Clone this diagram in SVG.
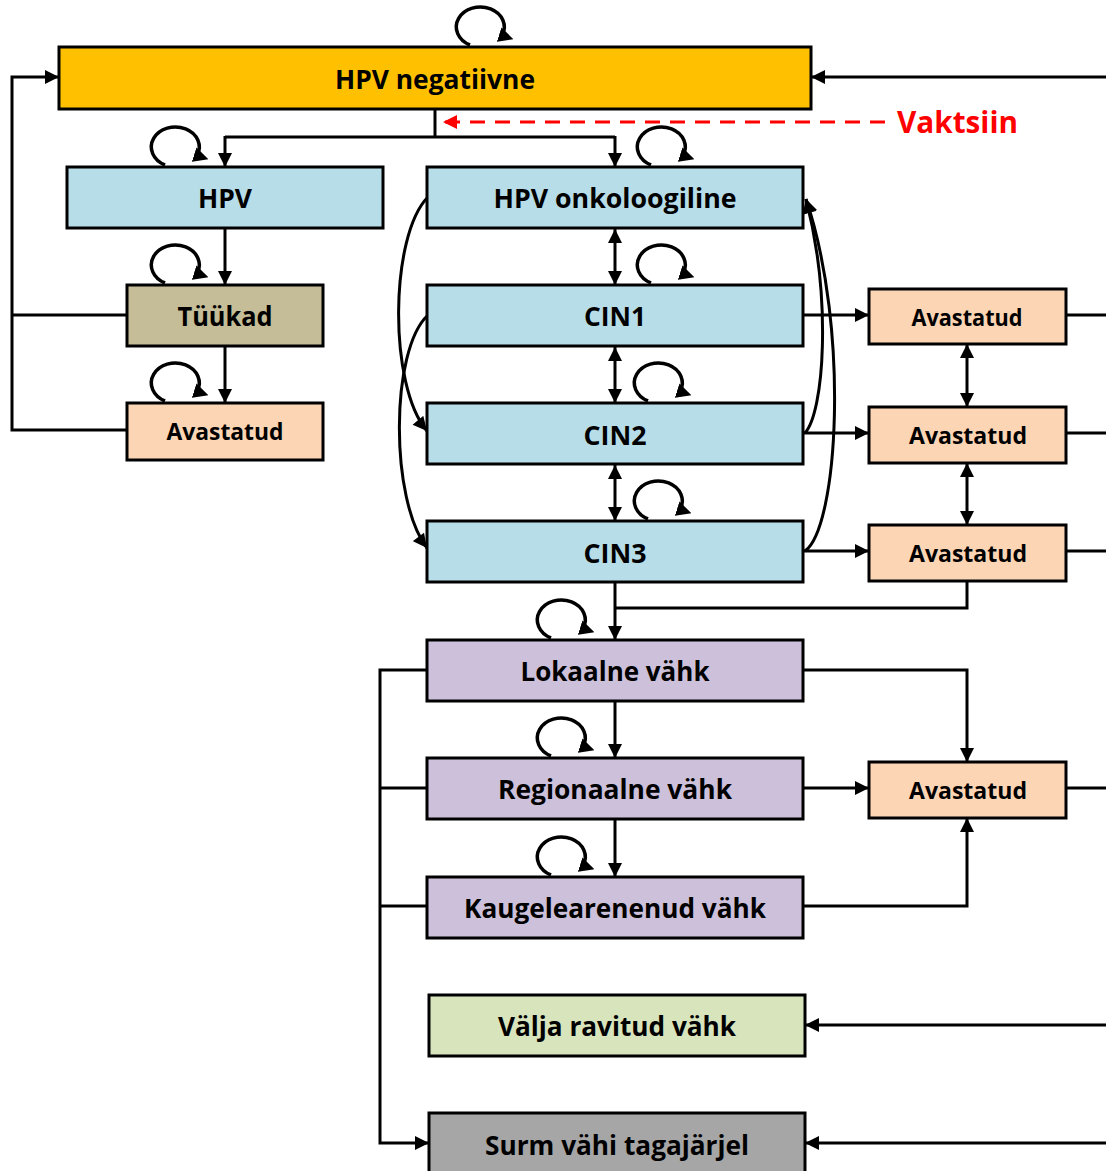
<svg xmlns="http://www.w3.org/2000/svg" xmlns:xlink="http://www.w3.org/1999/xlink" width="1106" height="1171" viewBox="0 0 1106 1171">
  <style>
    .box { stroke: #000; stroke-width: 3; }
    .neg { fill: #FFC000; }
    .hpv { fill: #B7DDE8; }
    .wart { fill: #C4BD97; }
    .det { fill: #FCD5B4; }
    .ca { fill: #CCC0DA; }
    .cured { fill: #D8E4BC; }
    .dead { fill: #A6A6A6; }
    .lbl { font-family: "Open Sans", "Liberation Sans", sans-serif; font-weight: bold; font-size: 26px; fill: #000; text-anchor: middle; }
    .sm { font-size: 23px; }
    .conn { fill: none; stroke: #000; stroke-width: 3; }
    .self { fill: none; stroke: #000; stroke-width: 3.5; }
    .vac { fill: none; stroke: #FF0000; stroke-width: 3; stroke-dasharray: 15 10; }
    .vlbl { font-family: "Open Sans", "Liberation Sans", sans-serif; font-weight: bold; font-size: 30px; fill: #FF0000; }
  </style>
  <defs>
    <marker id="arr" viewBox="0 0 10 10" refX="10" refY="5" markerWidth="15" markerHeight="14" markerUnits="userSpaceOnUse" orient="auto-start-reverse">
      <path d="M0,0 L10,5 L0,10 z" fill="#000"/>
    </marker>
    <marker id="arrS" viewBox="0 0 10 10" refX="2" refY="5" markerWidth="15" markerHeight="16" markerUnits="userSpaceOnUse" orient="18">
      <path d="M0,0 L10,5 L0,10 z" fill="#000"/>
    </marker>
    <marker id="arrR" viewBox="0 0 10 10" refX="10" refY="5" markerWidth="15" markerHeight="14" markerUnits="userSpaceOnUse" orient="auto">
      <path d="M0,0 L10,5 L0,10 z" fill="#FF0000"/>
    </marker>
    <!-- self-transition loop, drawn around its own centre -->
    <path id="loop" class="self" d="M -10 18 A 24 20 0 1 1 22 8.5" marker-end="url(#arrS)"/>
  </defs>

  <!-- connectors -->
  <g id="connectors">
    <!-- return paths into HPV negatiivne -->
    <path class="conn" d="M 1106 77 L 811 77" marker-end="url(#arr)"/>
    <path class="conn" d="M 127 315 L 12 315 M 127 430 L 12 430 M 12 431.5 L 12 77 L 59 77" marker-end="url(#arr)"/>
    <!-- infection split -->
    <path class="conn" d="M 435 109 L 435 137"/>
    <path class="conn" d="M 225 137 L 615 137"/>
    <path class="conn" d="M 225 136 L 225 167" marker-end="url(#arr)"/>
    <path class="conn" d="M 615 136 L 615 167" marker-end="url(#arr)"/>
    <!-- vaccination -->
    <path class="vac" d="M 885 122 L 443 122" marker-end="url(#arrR)"/>
    <!-- warts branch -->
    <path class="conn" d="M 225 228 L 225 285" marker-end="url(#arr)"/>
    <path class="conn" d="M 225 346 L 225 403" marker-end="url(#arr)"/>
    <!-- CIN ladder -->
    <path class="conn" d="M 615 229 L 615 285" marker-start="url(#arr)" marker-end="url(#arr)"/>
    <path class="conn" d="M 615 347 L 615 403" marker-start="url(#arr)" marker-end="url(#arr)"/>
    <path class="conn" d="M 615 465 L 615 521" marker-start="url(#arr)" marker-end="url(#arr)"/>
    <!-- skip-level progressions -->
    <path class="conn" d="M 428 197 C 390 235, 388 385, 427 431" marker-end="url(#arr)"/>
    <path class="conn" d="M 428 315 C 390 350, 390 500, 427 548" marker-end="url(#arr)"/>
    <!-- regressions to HPV onkoloogiline -->
    <path class="conn" d="M 805 433 C 824 412, 832 300, 806 199" marker-end="url(#arr)"/>
    <path class="conn" d="M 805 551 C 838 528, 850 330, 806 199" marker-end="url(#arr)"/>
    <!-- detection of CIN -->
    <path class="conn" d="M 803 315 L 869 315" marker-end="url(#arr)"/>
    <path class="conn" d="M 803 433 L 869 433" marker-end="url(#arr)"/>
    <path class="conn" d="M 803 551 L 869 551" marker-end="url(#arr)"/>
    <path class="conn" d="M 967 344 L 967 407" marker-start="url(#arr)" marker-end="url(#arr)"/>
    <path class="conn" d="M 967 463 L 967 525" marker-start="url(#arr)" marker-end="url(#arr)"/>
    <path class="conn" d="M 1066 315 L 1106 315 M 1066 433 L 1106 433 M 1066 551 L 1106 551"/>
    <!-- towards cancer -->
    <path class="conn" d="M 967 581 L 967 608 L 614 608"/>
    <path class="conn" d="M 615 582 L 615 640" marker-end="url(#arr)"/>
    <path class="conn" d="M 615 701 L 615 758" marker-end="url(#arr)"/>
    <path class="conn" d="M 615 819 L 615 877" marker-end="url(#arr)"/>
    <!-- cancer detection -->
    <path class="conn" d="M 803 670 L 967 670 L 967 762" marker-end="url(#arr)"/>
    <path class="conn" d="M 803 788 L 869 788" marker-end="url(#arr)"/>
    <path class="conn" d="M 803 906 L 967 906 L 967 818" marker-end="url(#arr)"/>
    <path class="conn" d="M 1066 788 L 1106 788"/>
    <!-- cancer death -->
    <path class="conn" d="M 427 670 L 380 670 L 380 1143 L 429 1143" marker-end="url(#arr)"/>
    <path class="conn" d="M 427 788 L 380 788 M 427 906 L 380 906"/>
    <!-- cured / death after detection -->
    <path class="conn" d="M 1106 1025 L 805 1025" marker-end="url(#arr)"/>
    <path class="conn" d="M 1106 1143 L 805 1143" marker-end="url(#arr)"/>
    <!-- stay-in-state loops -->
    <use xlink:href="#loop" transform="translate(480,27)"/>
    <use xlink:href="#loop" transform="translate(175,147)"/>
    <use xlink:href="#loop" transform="translate(661,147)"/>
    <use xlink:href="#loop" transform="translate(175,265)"/>
    <use xlink:href="#loop" transform="translate(175,383)"/>
    <use xlink:href="#loop" transform="translate(661,265)"/>
    <use xlink:href="#loop" transform="translate(658,383)"/>
    <use xlink:href="#loop" transform="translate(658,501)"/>
    <use xlink:href="#loop" transform="translate(561,620)"/>
    <use xlink:href="#loop" transform="translate(561,738)"/>
    <use xlink:href="#loop" transform="translate(561,857)"/>
  </g>

  <text class="vlbl" x="897" y="133" textLength="121" lengthAdjust="spacingAndGlyphs">Vaktsiin</text>

  <g id="hpv-negatiivne">
    <rect class="box neg" x="59" y="47" width="752" height="62"/>
    <text class="lbl" x="435" y="89" textLength="200" lengthAdjust="spacingAndGlyphs">HPV negatiivne</text>
  </g>
  <g id="hpv">
    <rect class="box hpv" x="67" y="167" width="316" height="61"/>
    <text class="lbl" x="225" y="208" textLength="54" lengthAdjust="spacingAndGlyphs">HPV</text>
  </g>
  <g id="hpv-onkoloogiline">
    <rect class="box hpv" x="427" y="167" width="376" height="61"/>
    <text class="lbl" x="615" y="208" textLength="243" lengthAdjust="spacingAndGlyphs">HPV onkoloogiline</text>
  </g>
  <g id="tuukad">
    <rect class="box wart" x="127" y="285" width="196" height="61"/>
    <text class="lbl" x="225" y="326" textLength="95" lengthAdjust="spacingAndGlyphs">Tüükad</text>
  </g>
  <g id="tuukad-avastatud">
    <rect class="box det" x="127" y="403" width="196" height="57"/>
    <text class="lbl sm" x="225" y="440" textLength="117" lengthAdjust="spacingAndGlyphs">Avastatud</text>
  </g>
  <g id="cin1">
    <rect class="box hpv" x="427" y="285" width="376" height="61"/>
    <text class="lbl" x="615" y="326" textLength="62" lengthAdjust="spacingAndGlyphs">CIN1</text>
  </g>
  <g id="cin2">
    <rect class="box hpv" x="427" y="403" width="376" height="61"/>
    <text class="lbl" x="615" y="445" textLength="63" lengthAdjust="spacingAndGlyphs">CIN2</text>
  </g>
  <g id="cin3">
    <rect class="box hpv" x="427" y="521" width="376" height="61"/>
    <text class="lbl" x="615" y="563" textLength="63" lengthAdjust="spacingAndGlyphs">CIN3</text>
  </g>
  <g id="cin1-avastatud">
    <rect class="box det" x="869" y="289" width="197" height="55"/>
    <text class="lbl sm" x="967" y="326" textLength="111" lengthAdjust="spacingAndGlyphs">Avastatud</text>
  </g>
  <g id="cin2-avastatud">
    <rect class="box det" x="869" y="407" width="197" height="56"/>
    <text class="lbl sm" x="968" y="444" textLength="118" lengthAdjust="spacingAndGlyphs">Avastatud</text>
  </g>
  <g id="cin3-avastatud">
    <rect class="box det" x="869" y="525" width="197" height="56"/>
    <text class="lbl sm" x="968" y="562" textLength="118" lengthAdjust="spacingAndGlyphs">Avastatud</text>
  </g>
  <g id="lokaalne-vahk">
    <rect class="box ca" x="427" y="640" width="376" height="61"/>
    <text class="lbl" x="615" y="681" textLength="189" lengthAdjust="spacingAndGlyphs">Lokaalne vähk</text>
  </g>
  <g id="regionaalne-vahk">
    <rect class="box ca" x="427" y="758" width="376" height="61"/>
    <text class="lbl" x="615" y="799" textLength="234" lengthAdjust="spacingAndGlyphs">Regionaalne vähk</text>
  </g>
  <g id="kaugelearenenud-vahk">
    <rect class="box ca" x="427" y="877" width="376" height="61"/>
    <text class="lbl" x="615" y="918" textLength="302" lengthAdjust="spacingAndGlyphs">Kaugelearenenud vähk</text>
  </g>
  <g id="vahk-avastatud">
    <rect class="box det" x="869" y="762" width="197" height="56"/>
    <text class="lbl sm" x="968" y="799" textLength="118" lengthAdjust="spacingAndGlyphs">Avastatud</text>
  </g>
  <g id="valja-ravitud-vahk">
    <rect class="box cured" x="429" y="995" width="376" height="61"/>
    <text class="lbl" x="617" y="1036" textLength="238" lengthAdjust="spacingAndGlyphs">Välja ravitud vähk</text>
  </g>
  <g id="surm-vahi-tagajarjel">
    <rect class="box dead" x="429" y="1113" width="376" height="70"/>
    <text class="lbl" x="617" y="1155" textLength="264" lengthAdjust="spacingAndGlyphs">Surm vähi tagajärjel</text>
  </g>
</svg>
